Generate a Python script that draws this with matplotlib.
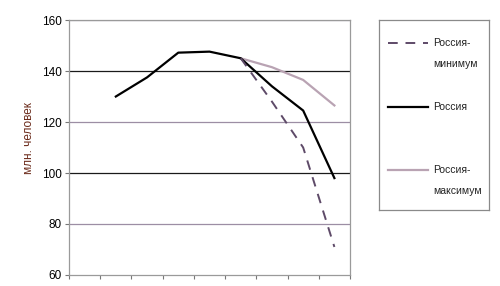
import numpy as np
import matplotlib.pyplot as plt

plt.rcParams['font.family'] = ['Liberation Sans', 'DejaVu Sans']

# categories along x (no labels on the original axis), first one empty
cats = np.arange(1, 10)
russia = [np.nan, 130, 137.5, 147.2, 147.6, 145, 134, 124.5, 98]
russia_min = [np.nan, np.nan, np.nan, np.nan, np.nan, 145, 128, 110, 71]
russia_max = [np.nan, np.nan, np.nan, np.nan, np.nan, 145, 141.5, 136.5, 126.5]
yticks = [60, 80, 100, 120, 140, 160]
labels = ['Россия-\nминимум', 'Россия', 'Россия-\nмаксимум']

c_min = '#5e4a68'
c_max = '#b9a3b3'
c_grid = '#9c8ea4'

fig = plt.figure(figsize=(5, 2.86), dpi=100)
ax = fig.add_axes([0.138, 0.0385, 0.562, 0.8915])

# horizontal grid lines, 140 and 100 are dark in the original
for v in yticks[1:]:
    col = '#1a1a1a' if v in (100, 140) else c_grid
    ax.axhline(v, color=col, lw=0.9, zorder=1)

ax.plot(cats, russia_max, color=c_max, lw=1.6, zorder=3)
ax.plot(cats, russia, color='black', lw=1.6, zorder=4)
ax.plot(cats, russia_min, color=c_min, lw=1.4, ls=(0, (5, 4)), zorder=5)

ax.set_xlim(0.5, 9.5)
ax.set_ylim(60, 160)
ax.set_yticks(yticks)
ax.set_xticks(np.arange(0.5, 10, 1))
ax.set_xticklabels([])
ax.tick_params(axis='x', direction='out', length=3, color='#777777')
ax.tick_params(axis='y', direction='out', length=3, color='#777777',
               labelsize=8.5, pad=2)
for s in ax.spines.values():
    s.set_color('#9a9a9a')
    s.set_linewidth(0.9)
ax.set_ylabel('млн. человек', fontsize=8.5, color='#6b2a1a')
ax.yaxis.set_label_coords(-0.122, 0.537)

# legend box drawn by hand
lax = fig.add_axes([0.758, 0.266, 0.22, 0.664])
lax.set_xlim(0, 110)
lax.set_ylim(190, 0)
lax.set_xticks([])
lax.set_yticks([])
for s in lax.spines.values():
    s.set_color('#8a8a8a')
    s.set_linewidth(0.9)
styles = [(c_min, (0, (5, 4)), 1.4), ('black', '-', 1.6), (c_max, '-', 1.6)]
ypos = [23, 87, 150]
for (col, ls, lw), lab, y in zip(styles, labels, ypos):
    lax.plot([9, 49], [y, y], color=col, ls=ls, lw=lw)
    lax.text(54, y - 5, lab, fontsize=7.5, va='top', ha='left',
             linespacing=2.4, color='#222222')

fig.savefig('out.png', dpi=100)
